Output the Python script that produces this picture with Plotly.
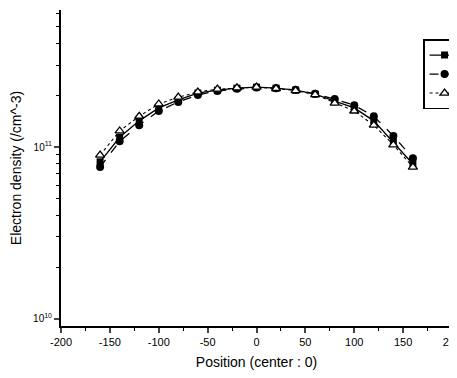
import plotly.graph_objects as go

positions = [-160, -140, -120, -100, -80, -60, -40, -20, 0, 20, 40, 60, 80, 100, 120, 140, 160]
series_square = [8.2e10, 1.14e11, 1.42e11, 1.69e11, 1.88e11, 2.06e11, 2.14e11, 2.20e11, 2.23e11,
                 2.20e11, 2.14e11, 2.03e11, 1.85e11, 1.69e11, 1.42e11, 1.07e11, 7.96e10]
series_circle = [7.65e10, 1.08e11, 1.34e11, 1.62e11, 1.83e11, 2.01e11, 2.12e11, 2.18e11, 2.22e11,
                 2.20e11, 2.15e11, 2.04e11, 1.90e11, 1.75e11, 1.51e11, 1.16e11, 8.6e10]
series_triangle = [8.98e10, 1.24e11, 1.51e11, 1.78e11, 1.95e11, 2.09e11, 2.17e11, 2.21e11, 2.23e11,
                   2.19e11, 2.13e11, 2.02e11, 1.80e11, 1.62e11, 1.34e11, 1.03e11, 7.65e10]
series_names = [" ", " ", " "]
x_ticks = [-200, -150, -100, -50, 0, 50, 100, 150, 200]
x_ticktext = ["-200", "-150", "-100", "-50", "0", "50", "100", "150", "200"]
y_ticks = [1e10, 1e11]
y_ticktext = ["10<sup>10</sup>", "10<sup>11</sup>"]
y_minor = [2e10, 3e10, 4e10, 5e10, 6e10, 7e10, 8e10, 9e10, 2e11, 3e11, 4e11, 5e11, 6e11]

fig = go.Figure()
fig.add_trace(go.Scatter(x=positions, y=series_square, name=series_names[0], mode="lines+markers",
                         line=dict(color="black", width=1.3, dash="solid"),
                         marker=dict(symbol="square", size=7, color="black")))
fig.add_trace(go.Scatter(x=positions, y=series_circle, name=series_names[1], mode="lines+markers",
                         line=dict(color="black", width=1.3, dash="dash"),
                         marker=dict(symbol="circle", size=8, color="black")))
fig.add_trace(go.Scatter(x=positions, y=series_triangle, name=series_names[2], mode="lines+markers",
                         line=dict(color="black", width=1.1, dash="dot"),
                         marker=dict(symbol="triangle-up", size=8, color="white",
                                     line=dict(color="black", width=1.3))))

fig.update_layout(
    width=457, height=362,
    margin=dict(l=53, r=13, t=2, b=44, autoexpand=False),
    paper_bgcolor="white", plot_bgcolor="white",
    font=dict(family="Liberation Sans, Arial, sans-serif", color="black", size=12),
    legend=dict(x=0.926, y=0.908, xanchor="left", yanchor="top",
                bordercolor="black", borderwidth=1.5, bgcolor="white",
                font=dict(size=11), tracegroupgap=2),
    showlegend=True,
)
fig.update_xaxes(
    range=[-200, 200], tickvals=x_ticks, ticktext=x_ticktext, ticks="outside", ticklen=5, tickwidth=1.5,
    ticklabeloverflow="allow",
    minor=dict(ticks="outside", ticklen=3, dtick=25, tickwidth=1.2, tickcolor="black"),
    showline=True, linecolor="black", linewidth=2, showgrid=False, zeroline=False,
    tickfont=dict(size=11), title=dict(text="Position (center : 0)", font=dict(size=14), standoff=20),
)
fig.update_yaxes(
    type="log", range=[9.959, 11.797], tickvals=y_ticks, ticktext=y_ticktext,
    ticks="outside", ticklen=5, tickwidth=1.5,
    minor=dict(ticks="outside", ticklen=3, tickwidth=1.2, tickcolor="black", showgrid=False,
               tickmode="array", tickvals=y_minor),
    showline=True, linecolor="black", linewidth=2, showgrid=False, zeroline=False,
    tickfont=dict(size=10), title=dict(text="Electron density (/cm^-3)", font=dict(size=14), standoff=10),
)

fig.write_html("out.html")
